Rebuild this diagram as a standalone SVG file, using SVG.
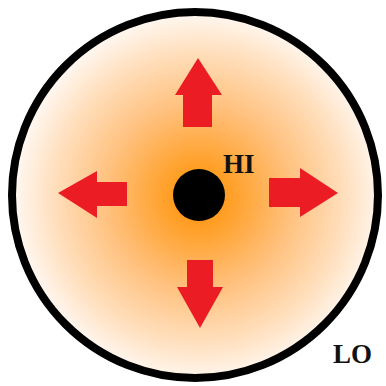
<svg xmlns="http://www.w3.org/2000/svg" width="386" height="386" viewBox="0 0 386 386">
<defs>
<radialGradient id="glow" gradientUnits="userSpaceOnUse" cx="199" cy="197" r="182">
<stop offset="0" stop-color="#FF9000"/>
<stop offset="0.2" stop-color="#FFA22E"/>
<stop offset="0.5" stop-color="#FFC07C"/>
<stop offset="0.8" stop-color="#FFDFBD"/>
<stop offset="1" stop-color="#FFF6EE"/>
</radialGradient>
<style>
.arrow{fill:#EC1C24;}
.lbl{font-family:"Liberation Serif","Times New Roman",serif;font-weight:bold;font-size:27px;fill:#111;}
</style>
</defs>
<rect width="386" height="386" fill="#FFFFFF"/>
<g id="boundary">
<circle cx="195" cy="195" r="183" fill="url(#glow)" stroke="#000" stroke-width="8"/>
</g>
<g id="connectors">
<polygon class="arrow" points="198,58 222,95 212,95 212,127 183,127 183,95 175,95"/>
<polygon class="arrow" points="200,328 177,287 187,287 187,260 213,260 213,287 223,287"/>
<polygon class="arrow" points="58,193 97,171 97,182 127,182 127,206 97,206 97,218"/>
<polygon class="arrow" points="338,193 300,168 300,178 269,178 269,207 300,207 300,217"/>
</g>
<g id="hi">
<circle cx="199" cy="195" r="26" fill="#000"/>
<text class="lbl" x="223" y="173">HI</text>
</g>
<g id="lo">
<text class="lbl" x="333" y="363">LO</text>
</g>
</svg>
